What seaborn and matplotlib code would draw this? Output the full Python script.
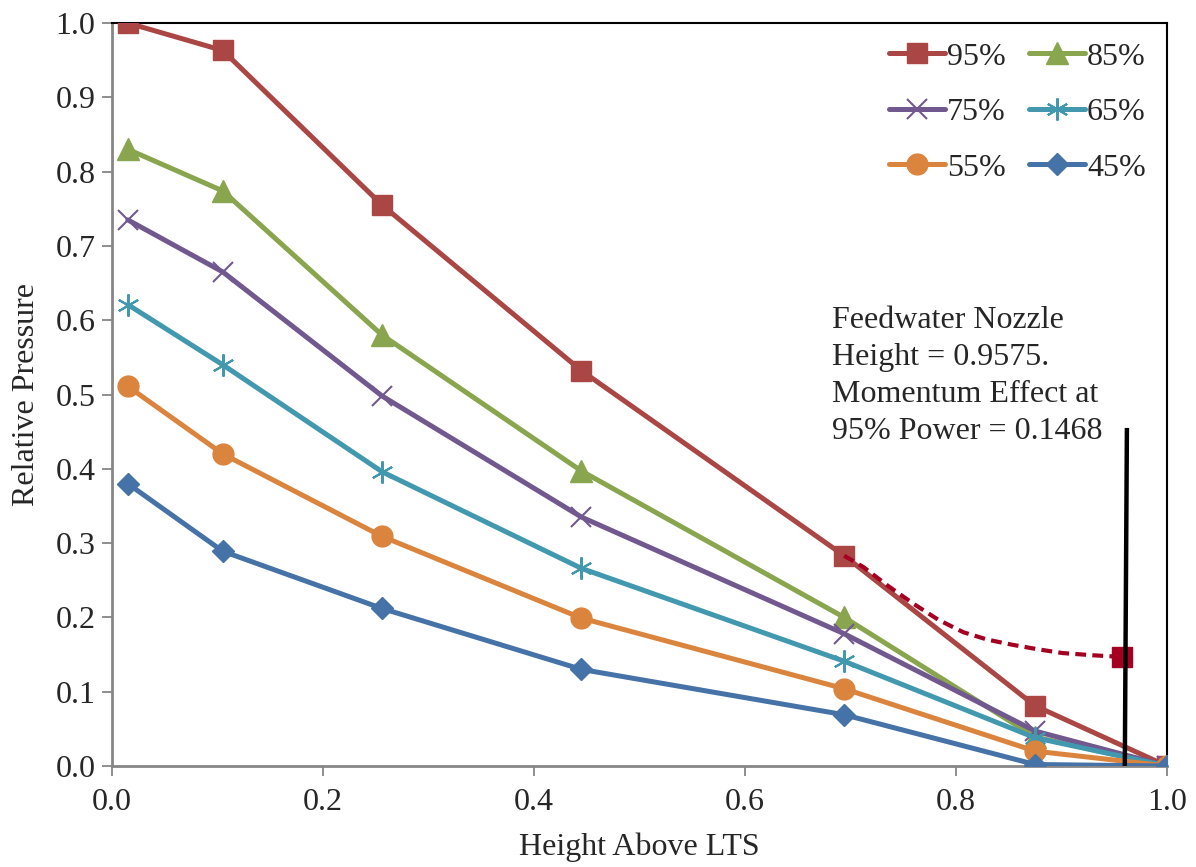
import numpy as np
import pandas as pd
import matplotlib
matplotlib.use("Agg")
import matplotlib.pyplot as plt
import seaborn as sns

# ---- data ----
heights = [0.015, 0.105, 0.256, 0.445, 0.694, 0.875, 1.0]
p95 = [1.000, 0.963, 0.755, 0.532, 0.283, 0.081, 0.0]
p85 = [0.830, 0.774, 0.580, 0.397, 0.200, 0.039, 0.0]
p75 = [0.735, 0.665, 0.498, 0.335, 0.178, 0.047, 0.0]
p65 = [0.621, 0.540, 0.396, 0.266, 0.141, 0.038, 0.0]
p55 = [0.511, 0.420, 0.309, 0.199, 0.104, 0.020, 0.0]
p45 = [0.380, 0.289, 0.212, 0.130, 0.069, 0.002, 0.0]
series_labels = ["95%", "85%", "75%", "65%", "55%", "45%"]

# momentum-effect curve (dashed)
mom_x = [0.694, 0.712, 0.735, 0.759, 0.783, 0.807, 0.830, 0.854, 0.878, 0.901, 0.930, 0.9575]
mom_y = [0.283, 0.268, 0.243, 0.219, 0.197, 0.180, 0.170, 0.163, 0.157, 0.152, 0.149, 0.1468]

# nozzle marker line
nozzle_x = [0.962, 0.960]
nozzle_y = [0.455, 0.0]

annotation = "Feedwater Nozzle\nHeight = 0.9575.\nMomentum Effect at\n95% Power = 0.1468"

sns.set_theme(style="white")
plt.rcParams['font.family'] = ['Liberation Serif', 'DejaVu Serif']
plt.rcParams['font.size'] = 22.5

fig = plt.figure(figsize=(11.96, 8.67), dpi=100)
ax = fig.add_axes([112/1196, 1-766/867, (1167-112)/1196, (766-23)/867])

colors = {"95%": "#AA4643", "85%": "#89A54E", "75%": "#71588F",
          "65%": "#4198AF", "55%": "#DB843D", "45%": "#4572A7"}
markers = {"95%": ("s", 14.5, 1), "85%": ("^", 16, 1), "75%": ("x", 15, 1.5),
           "65%": ((6, 2, 0), 16, 1.5), "55%": ("o", 15, 1), "45%": ("D", 11.5, 1)}
data = {"95%": p95, "85%": p85, "75%": p75, "65%": p65, "55%": p55, "45%": p45}

for i, lab in enumerate(series_labels):
    m, ms, mew = markers[lab]
    sns.lineplot(x=heights, y=data[lab], ax=ax, color=colors[lab], linewidth=3.6,
                 marker=m, markersize=ms, markeredgewidth=mew,
                 markeredgecolor=colors[lab], markerfacecolor=colors[lab],
                 label=lab, zorder=3 + i, sort=False)

# dashed momentum curve
sns.lineplot(x=mom_x, y=mom_y, ax=ax, color="#A50021", linewidth=3,
             linestyle=(0, (2.6, 1.5)), zorder=10, sort=False, legend=False)
ax.plot([mom_x[-1]], [mom_y[-1]], marker="s", markersize=14.5, color="#A50021",
        linestyle="none", zorder=11)

# nozzle vertical line
ax.plot(nozzle_x, nozzle_y, color="black", linewidth=3.2, zorder=12,
        solid_capstyle="butt")

ax.text(0.682, 0.619, annotation, ha="left", va="top", fontsize=23,
        linespacing=1.36, zorder=13)

ax.set_xlim(0, 1.0)
ax.set_ylim(0, 1.0)
ax.set_xticks(np.arange(0, 1.01, 0.2))
ax.set_yticks(np.arange(0, 1.01, 0.1))
ax.xaxis.set_major_formatter(matplotlib.ticker.FormatStrFormatter("%.1f"))
ax.yaxis.set_major_formatter(matplotlib.ticker.FormatStrFormatter("%.1f"))
ax.tick_params(axis="both", direction="out", length=7, width=1.3, color="#868686",
               labelsize=23, bottom=True, left=True)
ax.tick_params(axis="x", pad=9)
ax.tick_params(axis="y", pad=5)
ax.set_xlabel("Height Above LTS", fontsize=23, labelpad=11)
ax.set_ylabel("Relative Pressure", fontsize=23, labelpad=10)

for s in ["left", "bottom"]:
    ax.spines[s].set_color("#868686")
    ax.spines[s].set_linewidth(2)
for s in ["top", "right"]:
    ax.spines[s].set_color("black")
    ax.spines[s].set_linewidth(1.5)

h, l = ax.get_legend_handles_labels()
hd = dict(zip(l, h))
order = ["95%", "75%", "55%", "85%", "65%", "45%"]
ax.legend([hd[k] for k in order], order, ncol=2, frameon=False,
          loc="upper right", bbox_to_anchor=(0.998, 1.0), fontsize=23,
          handlelength=1.75, handletextpad=0.05, columnspacing=0.75,
          labelspacing=0.82, borderaxespad=0.2)

fig.savefig("out.png", dpi=100)
